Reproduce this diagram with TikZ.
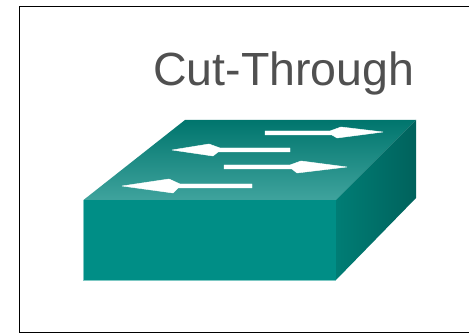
\documentclass[tikz,border=0pt]{standalone}
\usepackage{fontspec}
\setmainfont{Liberation Sans}
\definecolor{front}{HTML}{008E86}
\definecolor{topback}{HTML}{00756D}
\definecolor{topfront}{HTML}{3FA39D}
\definecolor{sidea}{HTML}{007D75}
\definecolor{sideb}{HTML}{00625C}
\definecolor{edge}{HTML}{7CC8C3}
\definecolor{labelgray}{HTML}{505050}
\tikzset{
  px/.style={x=0.75pt,y=-0.75pt},
  framebox/.style={draw=black,line width=1.4pt},
  flowarrow/.style={fill=white,draw=white,line width=0.3pt,line join=round},
  title/.style={font=\fontsize{34.9}{40}\selectfont,text=labelgray,inner sep=0pt,anchor=base west}
}
\begin{document}
\begin{tikzpicture}[px]
\useasboundingbox (0,0) rectangle (469,334);
\fill[white] (0,0) rectangle (469,334);
\draw[framebox] (19.5,6.5) -- (470,6.5) (19.5,6.5) -- (19.5,332.5) -- (470,332.5);
\node[title] (label) at (153,85.5) {Cut-Through};
% top face
\shade[bottom color=topfront,top color=topback] (83.5,200) -- (185,120) -- (416,120) -- (336,200) -- cycle;
% side face
\shade[left color=sidea,right color=sideb] (336,200) -- (416,120) -- (416,198) -- (336,280) -- cycle;
% front face
\fill[front] (83.5,200) rectangle (336,280);
\draw[edge,line width=0.5pt] (83.5,200) -- (83.5,280) -- (336,280);
% arrows
\fill[flowarrow] (265,131) -- (330,131) -- (341,127) -- (383,132) -- (337,138) -- (332,135) -- (265,135) -- cycle;
\fill[flowarrow] (290,148) -- (220,148) -- (209,144) -- (172,150) -- (213,156) -- (218,152) -- (290,152) -- cycle;
\fill[flowarrow] (224,165) -- (290,165) -- (301,161) -- (347,167) -- (297,173) -- (292,169) -- (224,169) -- cycle;
\fill[flowarrow] (252,184) -- (180,184) -- (169,179) -- (122,186) -- (173,193) -- (178,188) -- (252,188) -- cycle;
\end{tikzpicture}
\end{document}
